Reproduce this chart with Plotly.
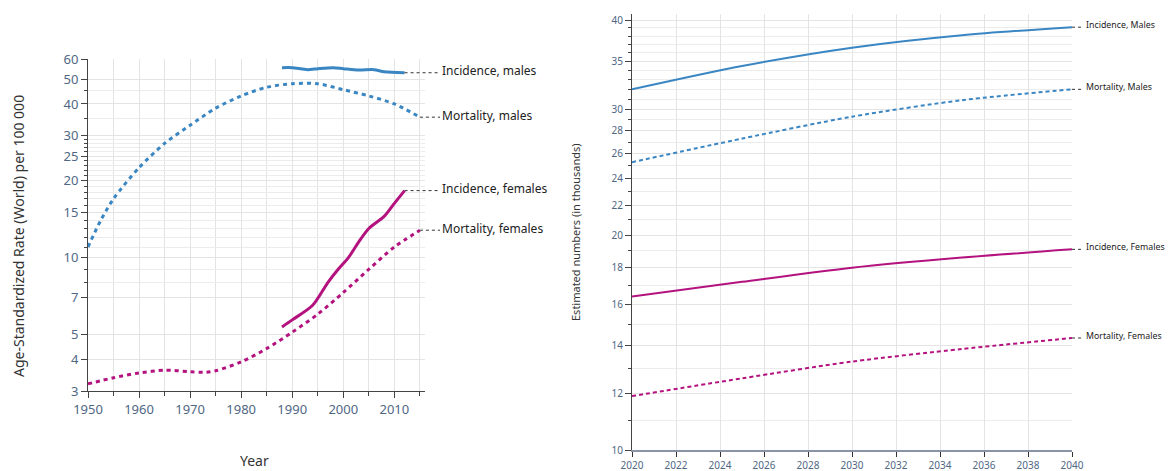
import plotly.graph_objects as go
import math

# page offset of the plot div (body margin) and figure size
OFF = 8
FW, FH = 1173 - OFF, 471 - OFF

# ---------------- data: left chart (rates per 100 000) ----------------
mort_m_years = [1950, 1952.5, 1955, 1960, 1965, 1970, 1975, 1980, 1985, 1990, 1995, 2000, 2005, 2010, 2015]
mort_m_vals = [11.0, 14.0, 17.0, 22.5, 28.0, 33.0, 38.5, 43.0, 46.5, 48.0, 48.0, 45.5, 43.0, 40.0, 35.5]

inc_m_years = [1988, 1990, 1993, 1995, 1998, 2000, 2003, 2006, 2008, 2012]
inc_m_vals = [55.5, 55.5, 54.5, 55.0, 55.5, 55.0, 54.3, 54.5, 53.5, 53.0]

inc_f_years = [1988, 1990, 1994, 1997, 1999, 2001, 2003, 2005, 2008, 2010, 2012]
inc_f_vals = [5.35, 5.7, 6.5, 8.0, 9.0, 10.0, 11.5, 13.0, 14.5, 16.3, 18.3]

mort_f_years = [1950, 1955, 1960, 1965, 1970, 1973, 1975, 1980, 1985, 1990, 1995, 2000, 2005, 2010, 2015]
mort_f_vals = [3.2, 3.38, 3.53, 3.62, 3.57, 3.55, 3.6, 3.9, 4.4, 5.1, 6.0, 7.3, 9.0, 11.0, 12.8]

left_labels = ["Incidence, males", "Mortality, males", "Incidence, females", "Mortality, females"]
left_yticks = [3, 4, 5, 7, 10, 15, 20, 25, 30, 40, 50, 60]
left_minor = [8, 9, 11, 12, 13, 14, 16, 17, 18, 19, 21, 22, 23, 24, 26, 27, 28, 29, 35, 45]
left_xticks = [1950, 1960, 1970, 1980, 1990, 2000, 2010]
left_xminor = [1955, 1965, 1975, 1985, 1995, 2005, 2015]

# ---------------- data: right chart (estimated numbers, thousands) ----------------
proj_years = [2020, 2025, 2030, 2035, 2040]
proj_inc_m = [32.0, 34.5, 36.6, 38.1, 39.1]
proj_mort_m = [25.3, 27.3, 29.3, 30.9, 32.0]
proj_inc_f = [16.4, 17.2, 18.0, 18.6, 19.1]
proj_mort_f = [11.9, 12.6, 13.3, 13.85, 14.35]

right_labels = ["Incidence, Males", "Mortality, Males", "Incidence, Females", "Mortality, Females"]
right_yticks = [10, 12, 14, 16, 18, 20, 22, 24, 26, 28, 30, 35, 40]
right_minor = [11, 13, 15, 17, 19, 21, 23, 25, 27, 29, 31, 32, 33, 34, 36, 37, 38, 39]
right_xticks = list(range(2020, 2041, 2))

BLUE = "#3a86c3"
MAG = "#b3127f"
TICKC = "#506784"
GRID = "#e4e4e4"


def fx(p):
    return (p - OFF) / FW


def fy(p):
    return 1 - (p - OFF) / FH

# domains (from window pixel positions)
lx = [fx(88), fx(425)]
ly = [fy(391), fy(59)]
rx = [fx(632), fx(1072)]
ry = [fy(450), fy(14)]
lxr = [1950, 2016]
lyr = [math.log10(3), math.log10(60)]
rxr = [2020, 2040]
ryr = [1, math.log10(40.8)]

fig = go.Figure()

def add(x, y, color, dash, width, xa, ya):
    fig.add_trace(go.Scatter(x=x, y=y, mode="lines", xaxis=xa, yaxis=ya,
                             line=dict(color=color, dash=dash, width=width, shape="spline",
                                       smoothing=0.8),
                             hoverinfo="skip", showlegend=False))

add(mort_m_years, mort_m_vals, BLUE, "4px,4px", 3, "x", "y")
add(inc_m_years, inc_m_vals, BLUE, "solid", 3, "x", "y")
add(inc_f_years, inc_f_vals, MAG, "solid", 3, "x", "y")
add(mort_f_years, mort_f_vals, MAG, "4px,4px", 3, "x", "y")

add(proj_years, proj_inc_m, BLUE, "solid", 2, "x2", "y2")
add(proj_years, proj_mort_m, BLUE, "4px,3px", 2, "x2", "y2")
add(proj_years, proj_inc_f, MAG, "solid", 2, "x2", "y2")
add(proj_years, proj_mort_f, MAG, "4px,3px", 2, "x2", "y2")


def px(x, dom, rng):
    return dom[0] + (x - rng[0]) / (rng[1] - rng[0]) * (dom[1] - dom[0])


def py(v, dom, rng):
    return dom[0] + (math.log10(v) - rng[0]) / (rng[1] - rng[0]) * (dom[1] - dom[0])

shapes = []
annotations = []

left_series = [(inc_m_years, inc_m_vals), (mort_m_years, mort_m_vals),
               (inc_f_years, inc_f_vals), (mort_f_years, mort_f_vals)]
left_label_x = fx(440)
for (xs, vs), lab in zip(left_series, left_labels):
    x0 = px(xs[-1], lx, lxr)
    y0 = py(vs[-1], ly, lyr)
    shapes.append(dict(type="line", xref="paper", yref="paper", x0=x0, x1=left_label_x,
                       y0=y0, y1=y0, line=dict(color="#333", width=1, dash="dot")))
    annotations.append(dict(xref="paper", yref="paper", x=left_label_x, y=y0 + 2 / FH,
                            text=lab, showarrow=False, xanchor="left", yanchor="middle",
                            font=dict(size=12, color="#222")))

right_series = [(proj_years, proj_inc_m), (proj_years, proj_mort_m),
                (proj_years, proj_inc_f), (proj_years, proj_mort_f)]
right_label_x = fx(1084)
for (xs, vs), lab in zip(right_series, right_labels):
    x0 = px(xs[-1], rx, rxr)
    y0 = py(vs[-1], ry, ryr)
    shapes.append(dict(type="line", xref="paper", yref="paper", x0=x0, x1=right_label_x,
                       y0=y0, y1=y0, line=dict(color="#333", width=1, dash="dot")))
    annotations.append(dict(xref="paper", yref="paper", x=right_label_x, y=y0 + 2 / FH,
                            text=lab, showarrow=False, xanchor="left", yanchor="middle",
                            font=dict(size=8.8, color="#222")))

# axis titles
annotations.append(dict(xref="paper", yref="paper", x=fx(18), y=fy(236),
                        text="Age-Standardized Rate (World) per 100 000", textangle=-90,
                        showarrow=False, xanchor="center", yanchor="middle",
                        font=dict(size=14, color="#333")))
annotations.append(dict(xref="paper", yref="paper", x=fx(255), y=fy(460),
                        text="Year", showarrow=False, xanchor="center", yanchor="middle",
                        font=dict(size=14, color="#333")))
annotations.append(dict(xref="paper", yref="paper", x=fx(576), y=fy(232),
                        text="Estimated numbers (in thousands)", textangle=-90,
                        showarrow=False, xanchor="center", yanchor="middle",
                        font=dict(size=11, color="#333")))

fig.update_layout(
    width=FW, height=FH,
    margin=dict(l=0, r=0, t=0, b=0, autoexpand=False),
    paper_bgcolor="white", plot_bgcolor="white",
    font=dict(family="Noto Sans", color=TICKC),
    showlegend=False,
    shapes=shapes,
    annotations=annotations,
    xaxis=dict(domain=lx, range=lxr, tickmode="array", tickvals=left_xticks, automargin=False,
               ticks="outside", ticklen=6, tickcolor="#444", showline=True, linecolor="#444",
               linewidth=1, showgrid=True, gridcolor=GRID, zeroline=False,
               tickfont=dict(size=13, color=TICKC),
               minor=dict(tickvals=left_xminor, ticks="outside", ticklen=4, tickcolor="#444",
                          showgrid=True, gridcolor=GRID),
               anchor="y"),
    yaxis=dict(domain=ly, type="log", range=lyr, tickmode="array", tickvals=left_yticks,
               ticktext=[str(v) for v in left_yticks], automargin=False,
               ticks="outside", ticklen=6, tickcolor="#444", showline=True, linecolor="#444",
               linewidth=1, showgrid=True, gridcolor=GRID, zeroline=False,
               tickfont=dict(size=13, color=TICKC),
               minor=dict(tickvals=left_minor, ticks="outside", ticklen=3, tickcolor="#444",
                          showgrid=True, gridcolor="#ececec"),
               anchor="x"),
    xaxis2=dict(domain=rx, range=rxr, tickmode="array", tickvals=right_xticks, automargin=False,
                ticks="outside", ticklen=5, tickcolor="#333", showline=True, linecolor="#8a94a6",
                linewidth=2, showgrid=True, gridcolor=GRID, zeroline=False,
                tickfont=dict(size=10, color=TICKC), anchor="y2"),
    yaxis2=dict(domain=ry, type="log", range=ryr, tickmode="array", tickvals=right_yticks,
                ticktext=[str(v) for v in right_yticks], automargin=False,
                ticks="outside", ticklen=6, tickcolor="#444", showline=True, linecolor="#444",
                linewidth=1, showgrid=True, gridcolor=GRID, zeroline=False,
                tickfont=dict(size=10, color=TICKC),
                minor=dict(tickvals=right_minor, ticks="outside", ticklen=3, tickcolor="#444",
                           showgrid=True, gridcolor="#ececec"),
                anchor="x2"),
)

fig.write_html("out.html")
